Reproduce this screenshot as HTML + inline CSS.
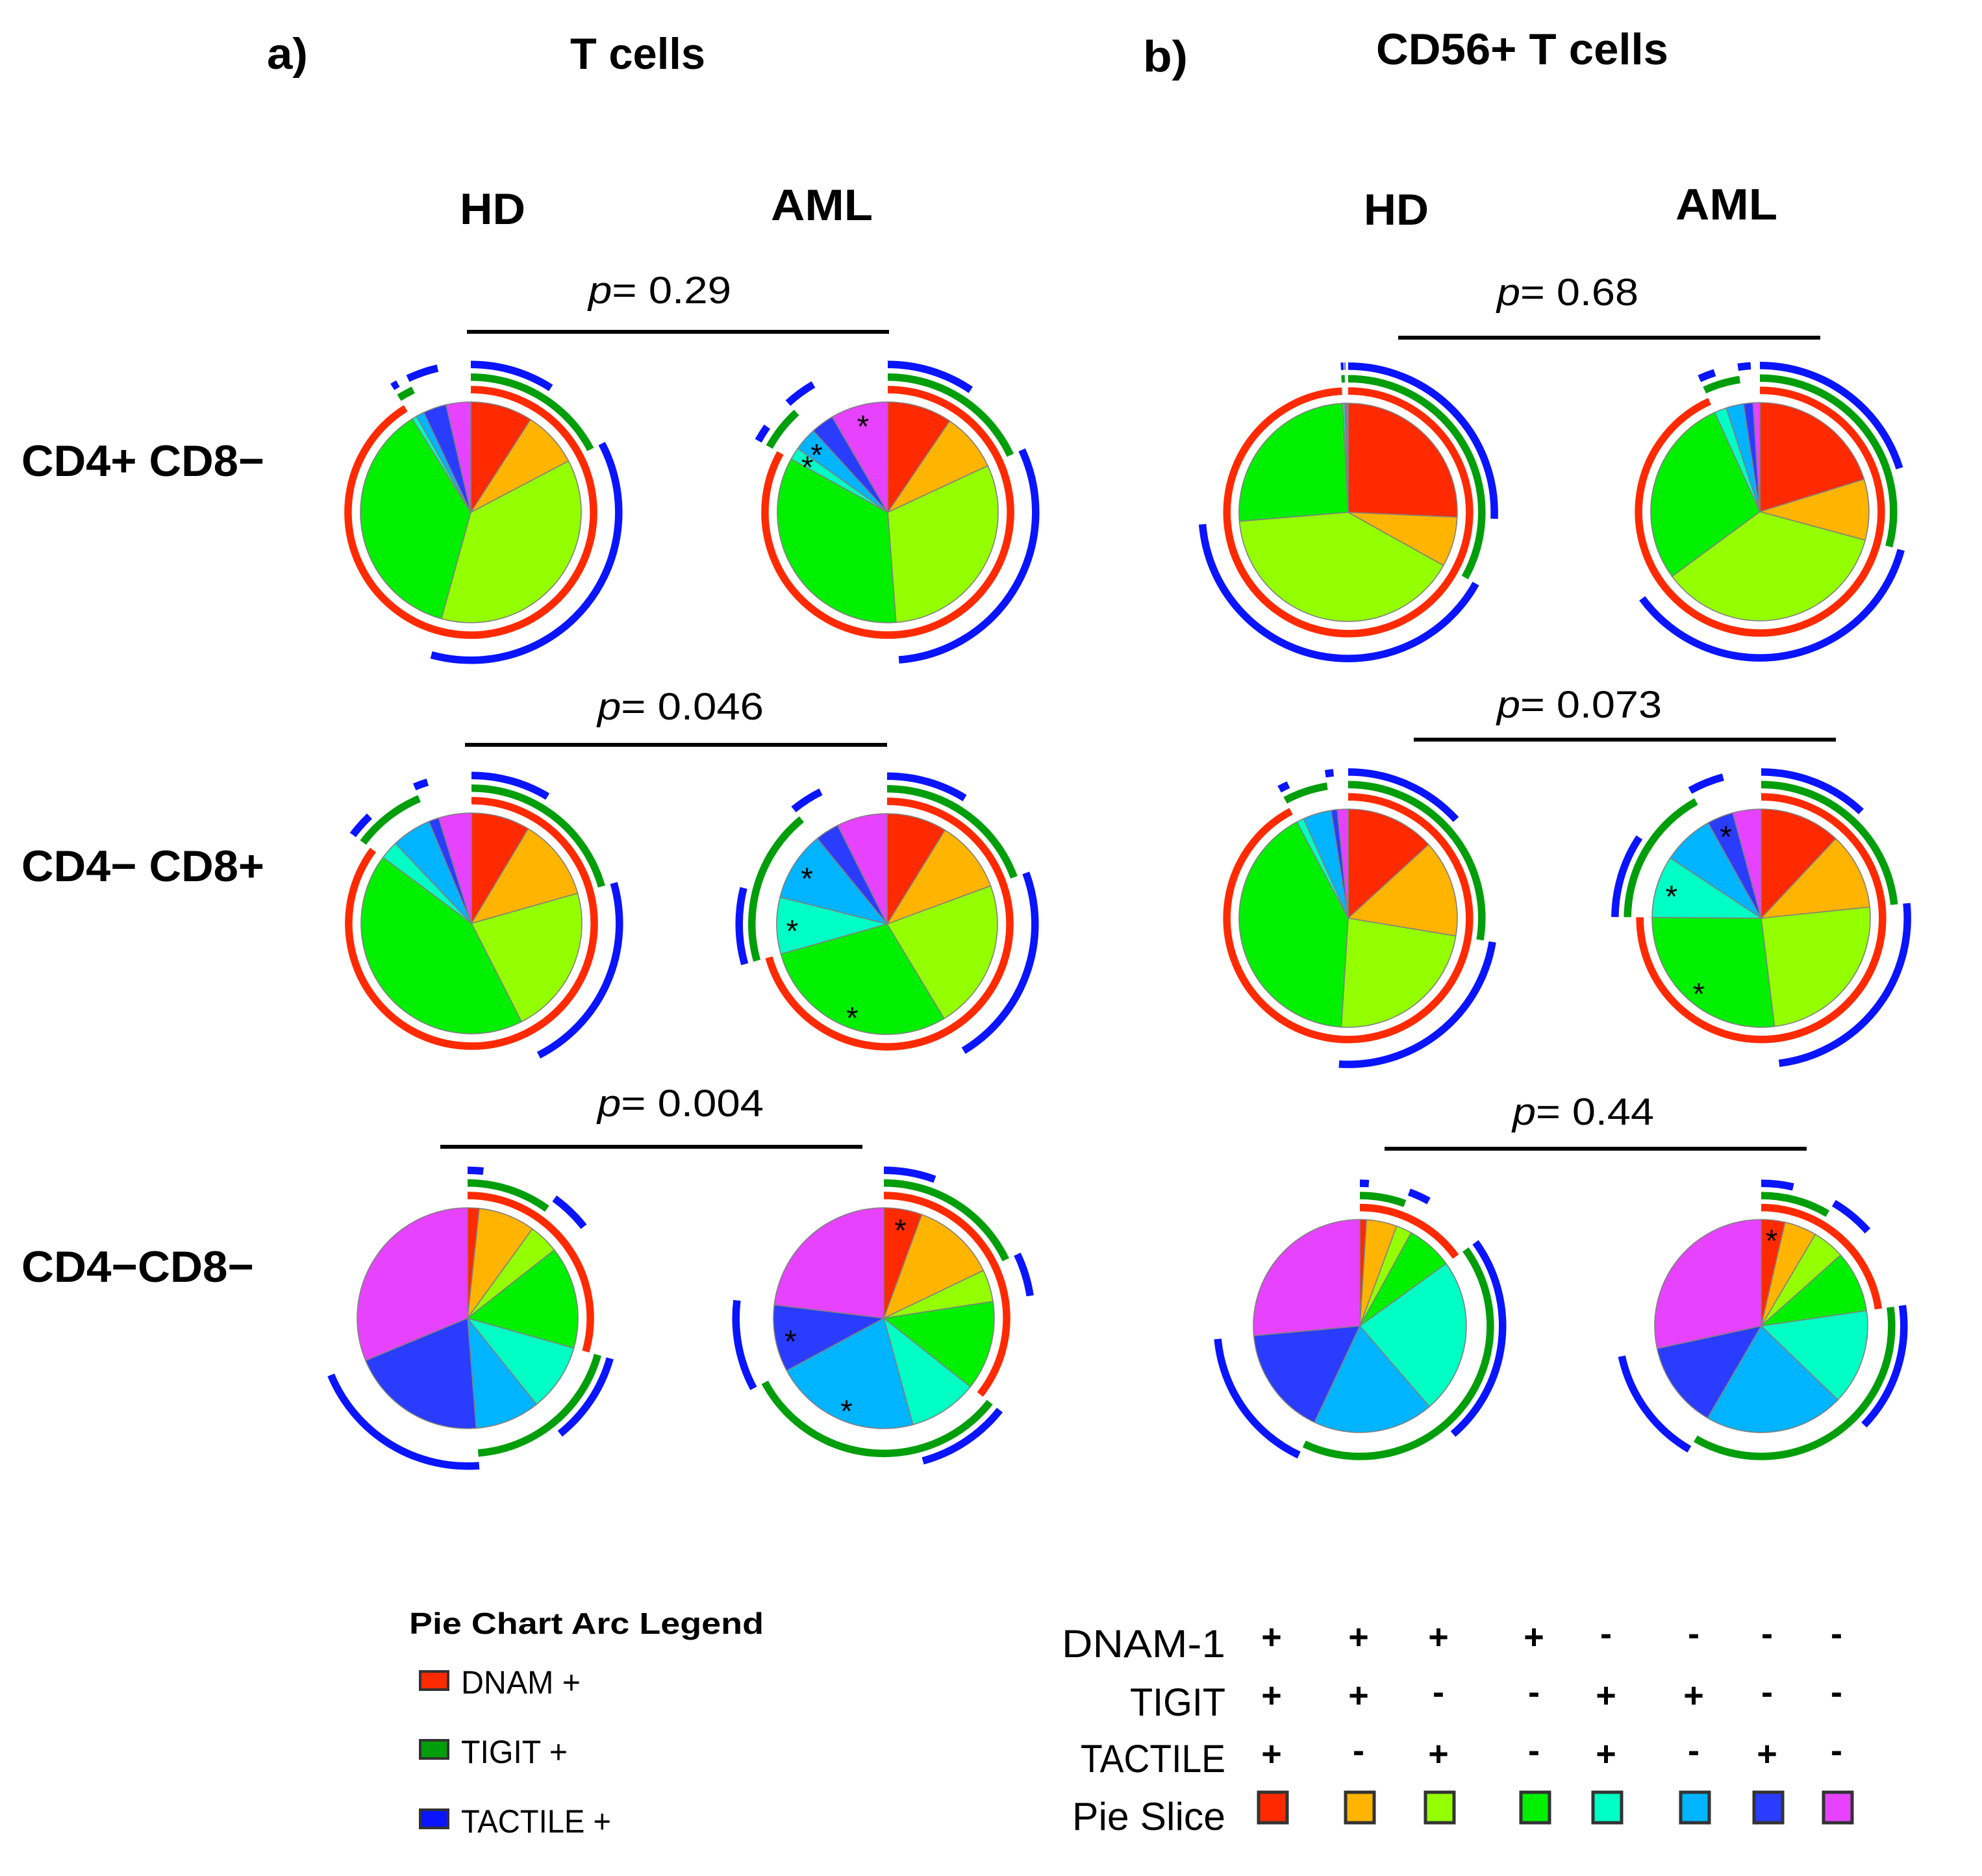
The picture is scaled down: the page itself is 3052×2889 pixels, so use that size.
<!DOCTYPE html>
<html lang="en">
<head>
<meta charset="utf-8">
<title>DNAM-1, TIGIT and TACTILE co-expression pie charts</title>
<style>
html,body{margin:0;padding:0;background:#fff;width:3052px;height:2889px;overflow:hidden}
svg{display:block}
text{font-family:"Liberation Sans",sans-serif;fill:#000}
.head{font-weight:700;font-size:68px}
.pval{font-size:58px}
.title{font-weight:700;font-size:46px}
.leg{font-size:50px}
.rowname{font-size:60px}
</style>
</head>
<body>
<svg id="figure" xmlns="http://www.w3.org/2000/svg" width="3052" height="2889" viewBox="0 0 3052 2889">
<rect width="3052" height="2889" fill="#ffffff"/>

<text class="head" x="411" y="106" textLength="63" lengthAdjust="spacingAndGlyphs">a)</text>
<text class="head" x="878" y="106" textLength="208" lengthAdjust="spacingAndGlyphs">T cells</text>
<text class="head" x="1760" y="110" textLength="69" lengthAdjust="spacingAndGlyphs">b)</text>
<text class="head" x="2119" y="99" textLength="450" lengthAdjust="spacingAndGlyphs">CD56+ T cells</text>

<text class="head" x="708" y="345" textLength="101" lengthAdjust="spacingAndGlyphs">HD</text>
<text class="head" x="1187" y="339" textLength="157" lengthAdjust="spacingAndGlyphs">AML</text>
<text class="head" x="2100" y="346" textLength="100" lengthAdjust="spacingAndGlyphs">HD</text>
<text class="head" x="2580" y="338" textLength="157" lengthAdjust="spacingAndGlyphs">AML</text>

<text class="head" x="33" y="733" textLength="374" lengthAdjust="spacingAndGlyphs">CD4+ CD8−</text>
<text class="head" x="33" y="1357" textLength="374" lengthAdjust="spacingAndGlyphs">CD4− CD8+</text>
<text class="head" x="33" y="1974" textLength="358" lengthAdjust="spacingAndGlyphs">CD4−CD8−</text>

<text class="pval" x="906" y="467" textLength="220" lengthAdjust="spacingAndGlyphs"><tspan font-style="italic">p</tspan>= 0.29</text>
<rect x="719" y="508" width="650" height="6" fill="#000"/>
<text class="pval" x="2305" y="470" textLength="218" lengthAdjust="spacingAndGlyphs"><tspan font-style="italic">p</tspan>= 0.68</text>
<rect x="2153" y="517" width="650" height="6" fill="#000"/>

<text class="pval" x="920" y="1108" textLength="256" lengthAdjust="spacingAndGlyphs"><tspan font-style="italic">p</tspan>= 0.046</text>
<rect x="716" y="1144" width="650" height="6" fill="#000"/>
<text class="pval" x="2305" y="1105" textLength="254" lengthAdjust="spacingAndGlyphs"><tspan font-style="italic">p</tspan>= 0.073</text>
<rect x="2177" y="1136" width="650" height="6" fill="#000"/>

<text class="pval" x="920" y="1719" textLength="256" lengthAdjust="spacingAndGlyphs"><tspan font-style="italic">p</tspan>= 0.004</text>
<rect x="678" y="1763" width="650" height="6" fill="#000"/>
<text class="pval" x="2329" y="1732" textLength="218" lengthAdjust="spacingAndGlyphs"><tspan font-style="italic">p</tspan>= 0.44</text>
<rect x="2132" y="1766" width="650" height="6" fill="#000"/>

<g id="pies"></g>

<text class="title" x="630" y="2516" textLength="546" lengthAdjust="spacingAndGlyphs">Pie Chart Arc Legend</text>
<g>
<rect x="647" y="2574" width="43" height="28" fill="#ff2a00" stroke="#333" stroke-width="4"/>
<text class="leg" x="710" y="2608" textLength="184" lengthAdjust="spacingAndGlyphs">DNAM +</text>
</g>
<g>
<rect x="647" y="2680" width="43" height="28" fill="#009e0a" stroke="#333" stroke-width="4"/>
<text class="leg" x="710" y="2715" textLength="164" lengthAdjust="spacingAndGlyphs">TIGIT +</text>
</g>
<g>
<rect x="647" y="2787" width="43" height="28" fill="#0a14ff" stroke="#333" stroke-width="4"/>
<text class="leg" x="710" y="2822" textLength="231" lengthAdjust="spacingAndGlyphs">TACTILE +</text>
</g>

<text class="rowname" x="1887" y="2552" text-anchor="end" textLength="252" lengthAdjust="spacingAndGlyphs">DNAM-1</text>
<text class="rowname" x="1887" y="2642" text-anchor="end" textLength="147" lengthAdjust="spacingAndGlyphs">TIGIT</text>
<text class="rowname" x="1887" y="2729" text-anchor="end" textLength="223" lengthAdjust="spacingAndGlyphs">TACTILE</text>
<text class="rowname" x="1887" y="2818" text-anchor="end" textLength="236" lengthAdjust="spacingAndGlyphs">Pie Slice</text>
<g id="key"></g>
</svg>

<script>
// Slice order: DNAM/TIGIT/TACTILE boolean combinations
const sliceNames = ['ppp', 'ppn', 'pnp', 'pnn', 'npp', 'npn', 'nnp', 'nnn'];

// Share of cells per slice (%)
const aRow1HD  = [9.1, 8.2, 37.0, 36.8, 0.7, 1.2, 3.4, 3.6];
const aRow1AML = [9.5, 8.6, 30.8, 34.3, 1.8, 3.4, 3.4, 8.4];
const bRow1HD  = [25.7, 7.4, 40.6, 25.5, 0.3, 0.1, 0.1, 0.3];
const bRow1AML = [20.2, 9.0, 35.7, 28.3, 1.8, 2.6, 1.4, 1.0];
const aRow2HD  = [8.6, 12.0, 21.9, 42.7, 2.7, 5.8, 1.5, 4.8];
const aRow2AML = [8.8, 10.6, 22.0, 29.3, 8.3, 10.2, 3.5, 7.4];
const bRow2HD  = [13.2, 14.4, 23.4, 41.2, 1.1, 4.2, 0.9, 1.6];
const bRow2AML = [12.0, 11.4, 24.7, 27.1, 9.2, 7.6, 3.9, 4.2];
const aRow3HD  = [1.7, 8.3, 4.4, 15.0, 9.9, 9.5, 20.0, 31.3];
const aRow3AML = [5.6, 12.3, 4.7, 13.1, 10.1, 21.4, 9.8, 23.1];
const bRow3HD  = [1.0, 4.6, 2.4, 7.0, 23.6, 18.3, 16.5, 26.4];
const bRow3AML = [3.6, 4.9, 4.9, 9.3, 14.5, 21.2, 13.2, 28.4];

// Slices flagged significant with an asterisk (slice index)
const aRow1Stars = [7, 5, 4];
const aRow2Stars = [5, 4, 3];
const bRow2Stars = [6, 4, 3];
const aRow3Stars = [0, 6, 5];
const bRow3Stars = [0];

// Marker membership of each slice (1 = positive)
const dnamFlags    = [1, 1, 1, 1, 0, 0, 0, 0];
const tigitFlags   = [1, 1, 0, 0, 1, 1, 0, 0];
const tactileFlags = [1, 0, 1, 0, 1, 0, 1, 0];

const sliceColors = ['#ff2a00', '#ffb400', '#94ff00', '#00f000', '#00ffc4', '#00b4ff', '#2a3cff', '#e642ff'];
const SVGNS = 'http://www.w3.org/2000/svg';

function angleScale(values) {
  const total = values.reduce(function (s, v) { return s + v; }, 0);
  return function (v) { return v / total * 2 * Math.PI; };
}
function polar(cx, cy, r, a) {
  return [cx + r * Math.sin(a), cy - r * Math.cos(a)];
}
function arcPath(cx, cy, r, a0, a1) {
  const p0 = polar(cx, cy, r, a0);
  const p1 = polar(cx, cy, r, a1);
  const large = (a1 - a0) > Math.PI ? 1 : 0;
  return 'M' + p0[0].toFixed(2) + ' ' + p0[1].toFixed(2) + 'A' + r + ' ' + r + ' 0 ' + large + ' 1 ' + p1[0].toFixed(2) + ' ' + p1[1].toFixed(2);
}
function drawPie(id, values, stars, cx, cy, r) {
  const root = document.getElementById('pies');
  const group = document.createElementNS(SVGNS, 'g');
  
  
  root.appendChild(group);
  const scale = angleScale(values);
  const starts = [];
  let cum = 0;
  values.forEach(function (v, i) {
    const a0 = cum;
    const a1 = cum + scale(v);
    starts.push([a0, a1]);
    const p0 = polar(cx, cy, r, a0);
    const p1 = polar(cx, cy, r, a1);
    const large = (a1 - a0) > Math.PI ? 1 : 0;
    const slice = document.createElementNS(SVGNS, 'path');
    slice.setAttribute('d', 'M' + cx + ' ' + cy + 'L' + p0[0].toFixed(2) + ' ' + p0[1].toFixed(2) + 'A' + r + ' ' + r + ' 0 ' + large + ' 1 ' + p1[0].toFixed(2) + ' ' + p1[1].toFixed(2) + 'Z');
    slice.setAttribute('fill', sliceColors[i]);
    slice.setAttribute('stroke', '#808080');
    slice.setAttribute('stroke-width', '1.6');
    
    
    group.appendChild(slice);
    cum = a1;
  });
  drawArcs(group, 'dnam-arc', dnamFlags, starts, cx, cy, r * 1.112, '#ff2a00');
  drawArcs(group, 'tigit-arc', tigitFlags, starts, cx, cy, r * 1.225, '#009e0a');
  drawArcs(group, 'tactile-arc', tactileFlags, starts, cx, cy, r * 1.34, '#0a14ff');
  stars.forEach(function (idx) {
    const mid = (starts[idx][0] + starts[idx][1]) / 2;
    const pt = polar(cx, cy, r * 0.86, mid);
    const star = document.createElementNS(SVGNS, 'text');
    star.setAttribute('x', pt[0].toFixed(2));
    star.setAttribute('y', (pt[1] + 25).toFixed(2));
    star.setAttribute('text-anchor', 'middle');
    star.setAttribute('font-size', '48');
    
    
    star.textContent = '*';
    group.appendChild(star);
  });
}
function drawArcs(group, name, flags, spans, cx, cy, r, color) {
  let i = 0;
  while (i < flags.length) {
    if (!flags[i]) { i++; continue; }
    let j = i;
    while (j + 1 < flags.length && flags[j + 1]) { j++; }
    const arc = document.createElementNS(SVGNS, 'path');
    arc.setAttribute('d', arcPath(cx, cy, r, spans[i][0], spans[j][1]));
    arc.setAttribute('fill', 'none');
    arc.setAttribute('stroke', color);
    arc.setAttribute('stroke-width', '11.5');
    
    
    group.appendChild(arc);
    i = j + 1;
  }
}

drawPie('a-cd4-hd', aRow1HD, [], 725, 789, 170);
drawPie('a-cd4-aml', aRow1AML, aRow1Stars, 1367, 789, 170);
drawPie('b-cd4-hd', bRow1HD, [], 2076, 789, 168);
drawPie('b-cd4-aml', bRow1AML, [], 2710, 788, 168);
drawPie('a-cd8-hd', aRow2HD, [], 726, 1422, 170);
drawPie('a-cd8-aml', aRow2AML, aRow2Stars, 1366, 1423, 170);
drawPie('b-cd8-hd', bRow2HD, [], 2076, 1414, 168);
drawPie('b-cd8-aml', bRow2AML, bRow2Stars, 2712, 1414, 168);
drawPie('a-dn-hd', aRow3HD, [], 720, 2030, 170);
drawPie('a-dn-aml', aRow3AML, aRow3Stars, 1361, 2030, 170);
drawPie('b-dn-hd', bRow3HD, [], 2094, 2042, 164);
drawPie('b-dn-aml', bRow3AML, bRow3Stars, 2712, 2042, 164);

// Slice key matrix
const dnamSigns    = ['+', '+', '+', '+', '-', '-', '-', '-'];
const tigitSigns   = ['+', '+', '-', '-', '+', '+', '-', '-'];
const tactileSigns = ['+', '-', '+', '-', '+', '-', '+', '-'];

function keyColumnX(i) {
  const offsets = [1958, 2092, 2215, 2362, 2473, 2608, 2721, 2828];
  return offsets[i];
}
function drawKeyRow(name, signs, y) {
  const key = document.getElementById('key');
  signs.forEach(function (s, i) {
    const t = document.createElementNS(SVGNS, 'text');
    t.setAttribute('x', keyColumnX(i));
    t.setAttribute('y', s === '+' ? y + 18 : y + 13);
    t.setAttribute('text-anchor', 'middle');
    t.setAttribute('font-size', '54');
    t.setAttribute('font-weight', '700');
    
    
    t.textContent = s;
    key.appendChild(t);
  });
}
drawKeyRow('dnam', dnamSigns, 2521);
drawKeyRow('tigit', tigitSigns, 2611);
drawKeyRow('tactile', tactileSigns, 2701);
sliceColors.forEach(function (c, i) {
  const r = document.createElementNS(SVGNS, 'rect');
  r.setAttribute('x', keyColumnX(i) - 20);
  r.setAttribute('y', 2760);
  r.setAttribute('width', 44);
  r.setAttribute('height', 47);
  r.setAttribute('fill', c);
  r.setAttribute('stroke', '#333');
  r.setAttribute('stroke-width', '5');
  
  
  document.getElementById('key').appendChild(r);
});
</script>
</body>
</html>
